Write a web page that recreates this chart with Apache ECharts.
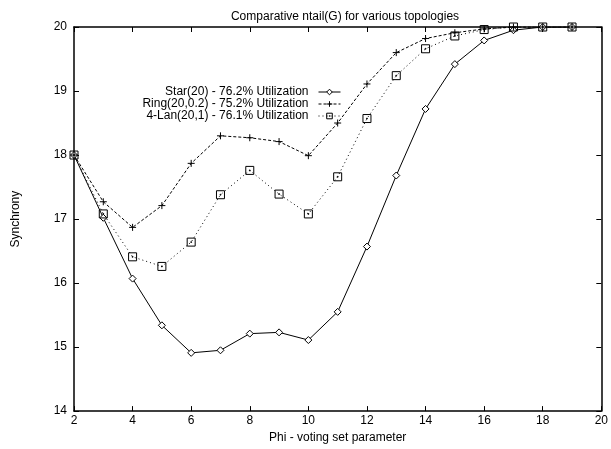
<!DOCTYPE html>
<html>
<head>
<meta charset="utf-8">
<script src="https://cdn.jsdelivr.net/npm/echarts@6/dist/echarts.min.js"></script>
<style>html,body{margin:0;padding:0;background:#fff}#c{width:611px;height:449px}</style>
</head>
<body>
<div id="c"></div>
<script>
var phi = [2,3,4,5,6,7,8,9,10,11,12,13,14,15,16,17,18,19];
var star = [18,17.02,16.07,15.34,14.91,14.95,15.21,15.23,15.11,15.55,16.57,17.68,18.72,19.42,19.79,19.95,20,20];
var ring = [18,17.27,16.87,17.21,17.87,18.3,18.27,18.21,17.99,18.5,19.11,19.6,19.82,19.91,19.97,20,20,20];
var lan = [18,17.08,16.41,16.26,16.64,17.38,17.76,17.39,17.08,17.66,18.57,19.24,19.66,19.86,19.96,20,20,20];
var names = ['Star(20) - 76.2% Utilization','Ring(20,0.2) - 75.2% Utilization','4-Lan(20,1) - 76.1% Utilization'];
var xTicks = [2,4,6,8,10,12,14,16,18,20];
var yTicks = [14,15,16,17,18,19,20];

function pairs(v){ return phi.map(function(x,i){ return [x, v[i]]; }); }
var FONT = 'Liberation Sans';
var FS = 12;
var plus = 'path://M0,5L10,5M5,0L5,10';
var sq = 'path://M0,0L10,0L10,10L0,10Z M4.5,4.5L5.5,4.5L5.5,5.5L4.5,5.5Z';

var chart = echarts.init(document.getElementById('c'), null, {renderer:'canvas'});
var axisCommon = {
  type:'value', min:2, max:20, interval:2,
  axisLine:{show:true, onZero:false, lineStyle:{color:'#000', width:1.5}},
  axisTick:{show:true, inside:true, length:5, lineStyle:{color:'#000', width:1}},
  splitLine:{show:false}
};
chart.setOption({
  animation:false,
  backgroundColor:'#fff',
  textStyle:{fontFamily:FONT},
  title:{text:'Comparative ntail(G) for various topologies', left:340, textAlign:'center', top:5,
    textStyle:{fontFamily:FONT, fontSize:FS, fontWeight:'normal', color:'#000', lineHeight:14}},
  grid:{left:74, right:6, top:27, bottom:36},
  legend:{
    orient:'vertical', right:270, top:86, align:'right', itemGap:0, itemWidth:22, itemHeight:7,
    padding:0,
    lineStyle:{width:1},
    itemStyle:{borderWidth:1},
    textStyle:{fontFamily:FONT, fontSize:FS, color:'#000', lineHeight:12, padding:[0,5,0,0]},
    data:names
  },
  xAxis:[
    Object.assign({}, axisCommon, {position:'bottom',
      name:'Phi - voting set parameter', nameLocation:'middle', nameGap:19,
      nameTextStyle:{fontFamily:FONT, fontSize:FS, color:'#000'},
      axisLabel:{color:'#000', fontFamily:FONT, fontSize:FS, margin:4,
        formatter:function(v){ return xTicks.indexOf(v)>=0 ? String(v) : ''; }}}),
    Object.assign({}, axisCommon, {position:'top', axisLabel:{show:false}})
  ],
  yAxis:[
    {type:'value', min:14, max:20, interval:1, position:'left',
      name:'Synchrony', nameLocation:'middle', nameGap:52, nameRotate:90,
      nameTextStyle:{fontFamily:FONT, fontSize:FS, color:'#000'},
      axisLine:{show:true, onZero:false, lineStyle:{color:'#000', width:1.5}},
      axisTick:{show:true, inside:true, length:5, lineStyle:{color:'#000', width:1}},
      splitLine:{show:false},
      axisLabel:{color:'#000', fontFamily:FONT, fontSize:FS, margin:7,
        formatter:function(v){ return yTicks.indexOf(v)>=0 ? String(v) : ''; }}},
    {type:'value', min:14, max:20, interval:1, position:'right',
      axisLine:{show:true, onZero:false, lineStyle:{color:'#000', width:1.5}},
      axisTick:{show:true, inside:true, length:5, lineStyle:{color:'#000', width:1}},
      splitLine:{show:false}, axisLabel:{show:false}}
  ],
  series:[
    {name:names[0], type:'line', data:pairs(star), symbol:'diamond', symbolSize:7,
      lineStyle:{color:'#000', width:1, type:'solid'},
      itemStyle:{color:'#fff', borderColor:'#000', borderWidth:1}},
    {name:names[1], type:'line', data:pairs(ring), symbol:plus, symbolSize:7,
      lineStyle:{color:'#000', width:1, type:[3,2]},
      itemStyle:{color:'none', borderColor:'#000', borderWidth:1}},
    {name:names[2], type:'line', data:pairs(lan), symbol:sq, symbolSize:8,
      lineStyle:{color:'#000', width:1, type:[1,3]},
      itemStyle:{color:'none', borderColor:'#000', borderWidth:1}}
  ]
});
</script>
</body>
</html>
